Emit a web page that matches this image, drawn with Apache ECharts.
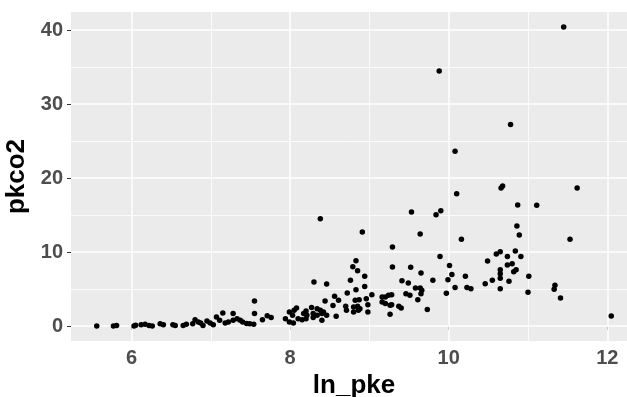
<!DOCTYPE html>
<html>
<head>
<meta charset="utf-8">
<script src="https://cdn.jsdelivr.net/npm/echarts@6/dist/echarts.min.js"></script>
<style>
  html, body { margin: 0; padding: 0; background: #fff; }
  #chart { width: 627px; height: 397px; }
</style>
</head>
<body>
<div id="chart"></div>
<script>
// ln_pke (x) and pkco2 (y)
var lnPke = [
  5.56, 5.77, 5.81, 6.03, 6.05, 6.12, 6.17, 6.22, 6.26, 6.36,
  6.40, 6.52, 6.55, 6.65, 6.69, 6.77, 6.80, 6.84, 6.87, 6.90,
  6.95, 6.99, 7.03, 7.07, 7.11, 7.15, 7.18, 7.22, 7.28, 7.28,
  7.33, 7.37, 7.40, 7.45, 7.49, 7.54, 7.55, 7.55, 7.65, 7.71,
  7.76, 7.94, 7.99, 8.03, 8.05, 7.99, 8.04, 8.08, 8.10, 8.15,
  8.17, 8.20, 8.21, 8.20, 8.27, 8.29, 8.29, 8.30, 8.34, 8.34,
  8.38, 8.38, 8.40, 8.40, 8.42, 8.44, 8.46, 8.46, 8.54, 8.56,
  8.58, 8.61, 8.70, 8.71, 8.72, 8.76, 8.79, 8.80, 8.85, 8.86,
  8.80, 8.88, 8.82, 8.87, 8.83, 8.83, 8.85, 8.91, 8.94, 8.94,
  8.96, 8.98, 8.98, 9.03, 9.16, 9.20, 9.24, 9.28, 9.16, 9.20,
  9.26, 9.28, 9.26, 9.29, 9.29, 9.37, 9.40, 9.41, 9.46, 9.49,
  9.51, 9.52, 9.53, 9.58, 9.61, 9.64, 9.64, 9.65, 9.66, 9.65,
  9.73, 9.80, 9.84, 9.88, 9.90, 9.89, 9.97, 9.99, 10.01, 10.04,
  10.08, 10.08, 10.10, 10.16, 10.21, 10.23, 10.28, 10.46, 10.49, 10.55,
  10.60, 10.65, 10.65, 10.65, 10.65, 10.65, 10.66, 10.68, 10.74, 10.74,
  10.76, 10.78, 10.80, 10.82, 10.85, 10.84, 10.86, 10.87, 10.89, 10.91,
  11.00, 11.01, 11.11, 11.34, 11.33, 11.41, 11.45, 11.53, 11.62, 12.05
];
var pkco2 = [
  0.00, 0.00, 0.08, 0.00, 0.10, 0.19, 0.23, 0.09, 0.00, 0.32,
  0.19, 0.19, 0.09, 0.09, 0.23, 0.32, 0.86, 0.54, 0.41, 0.09,
  0.68, 0.41, 0.19, 1.22, 0.77, 1.76, 0.41, 0.54, 1.68, 0.77,
  1.00, 0.77, 0.54, 0.36, 0.32, 0.23, 3.38, 1.68, 0.86, 1.40,
  1.14, 1.00, 1.89, 1.45, 2.12, 0.54, 0.41, 2.43, 1.00, 0.86,
  1.68, 2.03, 1.45, 1.00, 2.49, 1.14, 1.68, 5.95, 2.35, 1.45,
  2.12, 14.51, 1.68, 0.77, 1.89, 3.38, 5.68, 1.45, 2.76, 4.01,
  1.31, 3.47, 2.66, 2.12, 4.46, 6.18, 8.00, 2.57, 2.66, 2.12,
  1.89, 2.35, 3.47, 3.57, 4.92, 8.81, 7.46, 12.70, 6.72, 5.36,
  3.68, 2.89, 1.89, 4.24, 3.92, 3.92, 4.15, 4.24, 3.24, 3.03,
  2.80, 2.89, 1.58, 10.68, 7.97, 2.66, 2.43, 6.11, 4.38, 5.81,
  4.15, 7.93, 15.41, 5.14, 3.54, 5.14, 12.43, 7.16, 4.82, 4.38,
  2.22, 6.18, 15.05, 34.46, 15.57, 9.38, 4.42, 6.27, 8.18, 6.96,
  5.20, 23.61, 17.89, 11.74, 6.74, 5.20, 5.05, 5.70, 8.78, 6.20,
  9.73, 10.05, 7.08, 7.62, 6.45, 5.03, 18.65, 18.92, 9.38, 8.24,
  6.04, 27.22, 8.43, 7.35, 7.62, 10.14, 13.51, 16.34, 12.30, 9.38,
  4.55, 6.74, 16.31, 5.50, 4.96, 3.78, 40.41, 11.72, 18.65, 1.35
];

var xBreaks = [6, 8, 10, 12];
var xMinorBreaks = [7, 9, 11];
var yBreaks = [0, 10, 20, 30, 40];
var yMinorBreaks = [5, 15, 25, 35];

var points = lnPke.map(function (x, i) { return [x, pkco2[i]]; });

var gridLines = [];
xBreaks.forEach(function (v) { gridLines.push({ xAxis: v, lineStyle: { width: 1.5 } }); });
xMinorBreaks.forEach(function (v) { gridLines.push({ xAxis: v, lineStyle: { width: 0.8 } }); });
yBreaks.forEach(function (v) { gridLines.push({ yAxis: v, lineStyle: { width: 1.5 } }); });
yMinorBreaks.forEach(function (v) { gridLines.push({ yAxis: v, lineStyle: { width: 0.8 } }); });

var chart = echarts.init(document.getElementById('chart'), null, { renderer: 'canvas' });

var tickFont = {
  fontFamily: 'Liberation Sans, Arial, sans-serif',
  fontWeight: 'bold',
  fontSize: 20,
  color: '#4D4D4D'
};

chart.setOption({
  animation: false,
  backgroundColor: '#ffffff',
  grid: {
    left: 71,
    top: 12,
    width: 566,
    height: 329,
    outerBoundsMode: 'none',
    containLabel: false,
    show: true,
    backgroundColor: '#EBEBEB',
    borderWidth: 0
  },
  xAxis: {
    type: 'value',
    min: 5.235,
    max: 12.375,
    name: 'ln_pke',
    nameLocation: 'middle',
    nameGap: 25,
    nameTextStyle: {
      fontFamily: 'Liberation Sans, Arial, sans-serif',
      fontWeight: 'bold',
      fontSize: 26,
      color: '#000'
    },
    axisLine: { show: false },
    axisTick: { show: true, length: 4, customValues: xBreaks, lineStyle: { color: '#333333', width: 1 } },
    axisLabel: Object.assign({ customValues: xBreaks, margin: 7 }, tickFont),
    splitLine: { show: false }
  },
  yAxis: {
    type: 'value',
    min: -2.02,
    max: 42.43,
    name: 'pkco2',
    nameLocation: 'middle',
    nameGap: 32,
    nameRotate: 90,
    nameTextStyle: {
      fontFamily: 'Liberation Sans, Arial, sans-serif',
      fontWeight: 'bold',
      fontSize: 26,
      color: '#000'
    },
    axisLine: { show: false },
    axisTick: { show: true, length: 4, customValues: yBreaks, lineStyle: { color: '#333333', width: 1 } },
    axisLabel: Object.assign({ customValues: yBreaks, margin: 8 }, tickFont),
    splitLine: { show: false }
  },
  series: [
    {
      // panel grid lines, drawn under the points
      type: 'scatter',
      data: [],
      z: 1,
      silent: true,
      markLine: {
        z: 1,
        silent: true,
        symbol: ['none', 'none'],
        label: { show: false },
        lineStyle: { color: '#ffffff', type: 'solid' },
        emphasis: { disabled: true },
        data: gridLines
      }
    },
    {
      name: 'pkco2',
      type: 'scatter',
      z: 3,
      symbolSize: 5.5,
      itemStyle: { color: '#000000', opacity: 1 },
      data: points
    }
  ]
});
</script>
</body>
</html>
